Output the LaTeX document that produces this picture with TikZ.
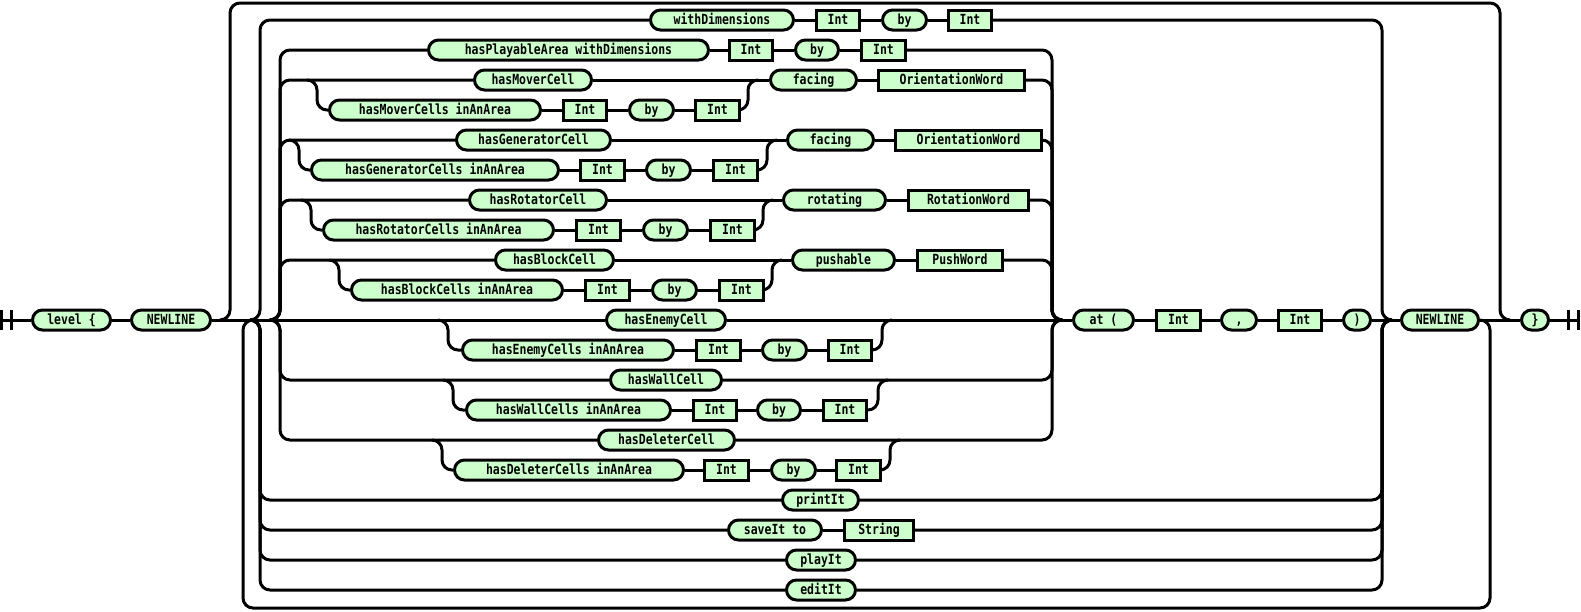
\documentclass[tikz,border=0pt]{standalone}
\usepackage{fontspec}
\usetikzlibrary{backgrounds}
\newfontfamily\rrfont[FakeStretch=0.82]{DejaVu Sans Mono}
\definecolor{boxfill}{RGB}{204,255,204}

% terminal (rounded) and non-terminal (square) boxes, given left/right outer edges and row
\newcommand\rrT[5]{%
  \pgfmathsetmacro\rrx{(#2+#3)/2}\pgfmathsetmacro\rrw{#3-#2-3}%
  \node[term,minimum width=\rrw pt] (#1) at (\rrx,#4) {#5};}
\newcommand\rrN[5]{%
  \pgfmathsetmacro\rrx{(#2+#3)/2}\pgfmathsetmacro\rrw{#3-#2-3}%
  \node[nonterm,minimum width=\rrw pt] (#1) at (\rrx,#4) {#5};}

\begin{document}
\begin{tikzpicture}[x=1pt,y=-1pt,
  wire/.style={line width=3pt,rounded corners=10pt},
  boxbase/.style={draw,line width=3pt,fill=boxfill,minimum height=20pt,inner sep=0pt,
    text height=12pt,text depth=2.5pt,font=\rrfont\bfseries\fontsize{14}{15}\selectfont},
  term/.style={boxbase,rounded corners=10pt},
  nonterm/.style={boxbase}]
\useasboundingbox (0,0) rectangle (1581,611);

% ---- boxes ----
\rrT{lvl}{31}{112}{320}{level \{}
\rrT{nl1}{130}{212}{320}{NEWLINE}
\rrT{at}{1072}{1135}{320}{at (}
\rrN{ax}{1155}{1202}{320}{Int}
\rrT{cm}{1220}{1258}{320}{,}
\rrN{ay}{1277}{1323}{320}{Int}
\rrT{rp}{1342}{1372}{320}{)}
\rrT{nl2}{1400}{1480}{320}{NEWLINE}
\rrT{cl}{1520}{1550}{320}{\}}

\rrT{wd}{649}{795}{20}{withDimensions}
\rrN{wdA}{815}{861}{20}{Int}
\rrT{wdB}{881}{928}{20}{by}
\rrN{wdC}{947}{993}{20}{Int}

\rrT{pa}{427}{710}{50}{hasPlayableArea withDimensions}
\rrN{paA}{728}{774}{50}{Int}
\rrT{paB}{794}{840}{50}{by}
\rrN{paC}{860}{907}{50}{Int}

\rrT{mv}{473}{593}{80}{hasMoverCell}
\rrT{mvs}{328}{542}{110}{hasMoverCells inAnArea}
\rrN{mvA}{562}{608}{110}{Int}
\rrT{mvB}{628}{675}{110}{by}
\rrN{mvC}{694}{741}{110}{Int}
\rrT{mvF}{769}{858}{80}{facing}
\rrN{mvO}{877}{1026}{80}{OrientationWord}

\rrT{gn}{455}{612}{140}{hasGeneratorCell}
\rrT{gns}{310}{560}{170}{hasGeneratorCells inAnArea}
\rrN{gnA}{579}{626}{170}{Int}
\rrT{gnB}{645}{692}{170}{by}
\rrN{gnC}{712}{759}{170}{Int}
\rrT{gnF}{786}{875}{140}{facing}
\rrN{gnO}{894}{1043}{140}{OrientationWord}

\rrT{rt}{468}{608}{200}{hasRotatorCell}
\rrT{rts}{322}{555}{230}{hasRotatorCells inAnArea}
\rrN{rtA}{575}{622}{230}{Int}
\rrT{rtB}{642}{689}{230}{by}
\rrN{rtC}{709}{756}{230}{Int}
\rrT{rtR}{782}{887}{200}{rotating}
\rrN{rtW}{907}{1030}{200}{RotationWord}

\rrT{bk}{494}{615}{260}{hasBlockCell}
\rrT{bks}{350}{564}{290}{hasBlockCells inAnArea}
\rrN{bkA}{584}{631}{290}{Int}
\rrT{bkB}{651}{698}{290}{by}
\rrN{bkC}{718}{765}{290}{Int}
\rrT{bkP}{791}{896}{260}{pushable}
\rrN{bkW}{916}{1004}{260}{PushWord}

\rrT{en}{605}{727}{320}{hasEnemyCell}
\rrT{ens}{461}{675}{350}{hasEnemyCells inAnArea}
\rrN{enA}{695}{742}{350}{Int}
\rrT{enB}{761}{808}{350}{by}
\rrN{enC}{827}{873}{350}{Int}

\rrT{wl}{609}{723}{380}{hasWallCell}
\rrT{wls}{465}{672}{410}{hasWallCells inAnArea}
\rrN{wlA}{692}{738}{410}{Int}
\rrT{wlB}{756}{802}{410}{by}
\rrN{wlC}{822}{868}{410}{Int}

\rrT{dl}{597}{736}{440}{hasDeleterCell}
\rrT{dls}{453}{685}{470}{hasDeleterCells inAnArea}
\rrN{dlA}{703}{750}{470}{Int}
\rrT{dlB}{770}{817}{470}{by}
\rrN{dlC}{835}{882}{470}{Int}

\rrT{pr}{781}{860}{500}{printIt}
\rrT{sv}{727}{823}{530}{saveIt to}
\rrN{svS}{843}{915}{530}{String}
\rrT{pl}{785}{857}{560}{playIt}
\rrT{ed}{785}{857}{590}{editIt}

\coordinate (st) at (1.5,320);
\coordinate (fin) at (1578,320);

% ---- wires, under the boxes ----
\begin{scope}[on background layer]
% start and end marks
\draw[line width=3pt] (1.5,310) -- (1.5,330) (11.5,310) -- (11.5,330);
\draw[line width=3pt] (1568,310) -- (1568,330) (1578,310) -- (1578,330);

% straight runs between neighbouring boxes
\foreach \a/\b in {st/lvl,lvl/nl1,nl1/en,en/at,at/ax,ax/cm,cm/ay,ay/rp,rp/nl2,nl2/cl,
    wd/wdA,wdA/wdB,wdB/wdC, pa/paA,paA/paB,paB/paC,
    mv/mvF,mvs/mvA,mvA/mvB,mvB/mvC,mvF/mvO,
    gn/gnF,gns/gnA,gnA/gnB,gnB/gnC,gnF/gnO,
    rt/rtR,rts/rtA,rtA/rtB,rtB/rtC,rtR/rtW,
    bk/bkP,bks/bkA,bkA/bkB,bkB/bkC,bkP/bkW,
    ens/enA,enA/enB,enB/enC, wls/wlA,wlA/wlB,wlB/wlC, dls/dlA,dlA/dlB,dlB/dlC,
    sv/svS}
  \draw[wire] (\a.east) -- (\b.west);
\draw[wire] (cl.east) -- (fin);

% optional skip over the repeated part
\draw[wire] (220,320) -- (230,320) -- (230,3) -- (1500,3) -- (1500,320) -- (1510,320);
% repetition loop
\draw[wire] (253,320) -- (243,320) -- (243,608) -- (1490,608) -- (1490,320) -- (1480,320);

% outer choice
\foreach \a/\b/\yy in {wd/wdC/20,pr/pr/500,sv/svS/530,pl/pl/560,ed/ed/590}{
  \draw[wire] (250,320) -- (260,320) -- (260,\yy) -- (\a.west);
  \draw[wire] (\b.east) -- (1382,\yy) -- (1382,320) -- (1392,320);
}

% inner choice
\foreach \a/\b/\yy in {pa/paC/50,mv/mvO/80,gn/gnO/140,rt/rtW/200,bk/bkW/260,wl/wl/380,dl/dl/440}{
  \draw[wire] (270,320) -- (280,320) -- (280,\yy) -- (\a.west);
  \draw[wire] (\b.east) -- (1052,\yy) -- (1052,320) -- (1062,320);
}

% sub-choices: a single cell or an area of cells
\foreach \r/\xl/\xr/\a/\b in {80/317/748/mvs/mvC,140/299/767/gns/gnC,200/311/763/rts/rtC,
    260/339/772/bks/bkC,320/448/882/ens/enC,380/453/878/wls/wlC,440/442/890/dls/dlC}{
  \draw[wire] (\xl-10,\r) -- (\xl,\r) -- (\xl,\r+30) -- (\a.west);
  \draw[wire] (\b.east) -- (\xr,\r+30) -- (\xr,\r) -- (\xr+10,\r);
}
\end{scope}
\end{tikzpicture}
\end{document}
